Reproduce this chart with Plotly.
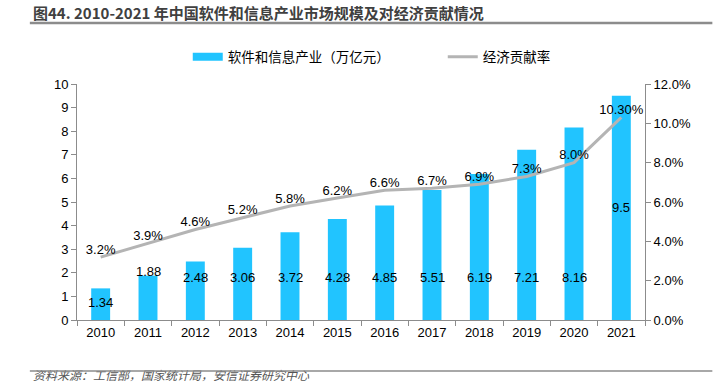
import plotly.graph_objects as go

years = ["2010", "2011", "2012", "2013", "2014", "2015", "2016", "2017", "2018", "2019", "2020", "2021"]
market_size = [1.34, 1.88, 2.48, 3.06, 3.72, 4.28, 4.85, 5.51, 6.19, 7.21, 8.16, 9.5]
market_labels = ["1.34", "1.88", "2.48", "3.06", "3.72", "4.28", "4.85", "5.51", "6.19", "7.21", "8.16", "9.5"]
contribution = [0.032, 0.039, 0.046, 0.052, 0.058, 0.062, 0.066, 0.067, 0.069, 0.073, 0.080, 0.103]
contribution_labels = ["3.2%", "3.9%", "4.6%", "5.2%", "5.8%", "6.2%", "6.6%", "6.7%", "6.9%", "7.3%", "8.0%", "10.30%"]
bar_label_heights = [0.75, 2.05, 1.8, 1.8, 1.8, 1.8, 1.8, 1.8, 1.8, 1.8, 1.8, 4.75]

BAR_NAME = "软件和信息产业（万亿元）"
LINE_NAME = "经济贡献率"
BLUE = "#21C4FF"
GREY = "#B4B4B4"

FONT = "Liberation Sans, Noto Sans CJK SC, sans-serif"
CJK = "Noto Sans CJK SC, sans-serif"

fig = go.Figure()
fig.add_trace(go.Bar(
    x=years, y=market_size, name=BAR_NAME, showlegend=False,
    marker=dict(color=BLUE, line=dict(width=0)), width=0.4,
))
# legend proxy so the bar swatch is a wide rectangle, as in the reference
fig.add_trace(go.Scatter(x=[None], y=[None], mode="lines", name=BAR_NAME,
                         line=dict(color=BLUE, width=8)))
fig.add_trace(go.Scatter(
    x=years, y=contribution, name=LINE_NAME, yaxis="y2",
    mode="lines+text", line=dict(color=GREY, width=3),
    text=contribution_labels, textposition="top center",
    textfont=dict(size=13, color="#000000", family=FONT),
))

for i, (h, lab) in enumerate(zip(bar_label_heights, market_labels)):
    fig.add_annotation(x=i, y=h, text=lab, showarrow=False, xref="x", yref="y",
                       font=dict(size=13, color="#000000", family=FONT))

fig.add_annotation(xref="paper", yref="paper", x=-0.081, y=1.305, xanchor="left", yanchor="middle",
                   text="<b>图44. 2010-2021 年中国软件和信息产业市场规模及对经济贡献情况</b>",
                   showarrow=False, font=dict(size=15, color="#404040", family=CJK))
fig.add_annotation(xref="paper", yref="paper", x=-0.081, y=-0.2754, xanchor="left", yanchor="bottom",
                   text="<i>资料来源：工信部，国家统计局，安信证券研究中心</i>",
                   showarrow=False, font=dict(size=12, color="#555555", family=CJK))

# horizontal rules under the title and above the source, drawn as arrowless annotation lines
for ry, rw in [(1.258, 2.5), (-0.216, 1.5)]:
    fig.add_annotation(xref="paper", yref="paper", x=-0.083, y=ry, text="",
                       showarrow=True, arrowhead=0, arrowwidth=rw, arrowcolor="#8C8C8C",
                       ax=684, ay=0, standoff=0, startstandoff=0)

fig.update_layout(
    width=716, height=385,
    margin=dict(l=77, r=71, t=84, b=65),
    paper_bgcolor="white", plot_bgcolor="white",
    font=dict(family=FONT, size=13, color="#000000"),
    showlegend=True,
    legend=dict(orientation="h", x=0.195, y=1.114, xanchor="left", yanchor="middle",
                font=dict(size=13.5, family=CJK, color="#000000"), itemwidth=30,
                entrywidth=210, entrywidthmode="pixels",
                traceorder="normal", bgcolor="rgba(0,0,0,0)"),
    xaxis=dict(type="category", range=[-0.5, 11.5], showline=True, linecolor="#8C8C8C", linewidth=1,
               ticks="outside", tickson="boundaries", tickcolor="#8C8C8C", ticklen=5,
               showgrid=False, tickfont=dict(size=13), tickangle=0),
    yaxis=dict(range=[0, 10], dtick=1, showline=True, linecolor="#8C8C8C", linewidth=1,
               ticks="outside", tickcolor="#8C8C8C", ticklen=5, showgrid=False, zeroline=False,
               tickfont=dict(size=13)),
    yaxis2=dict(range=[0, 0.12], dtick=0.02, tickformat=".1%", overlaying="y", side="right",
                showline=True, linecolor="#8C8C8C", linewidth=1, ticks="outside",
                tickcolor="#8C8C8C", ticklen=5, showgrid=False, zeroline=False,
                tickfont=dict(size=13)),
)

fig.write_html("out.html", config={"displayModeBar": False},
               post_script="document.body.style.margin='0';")
